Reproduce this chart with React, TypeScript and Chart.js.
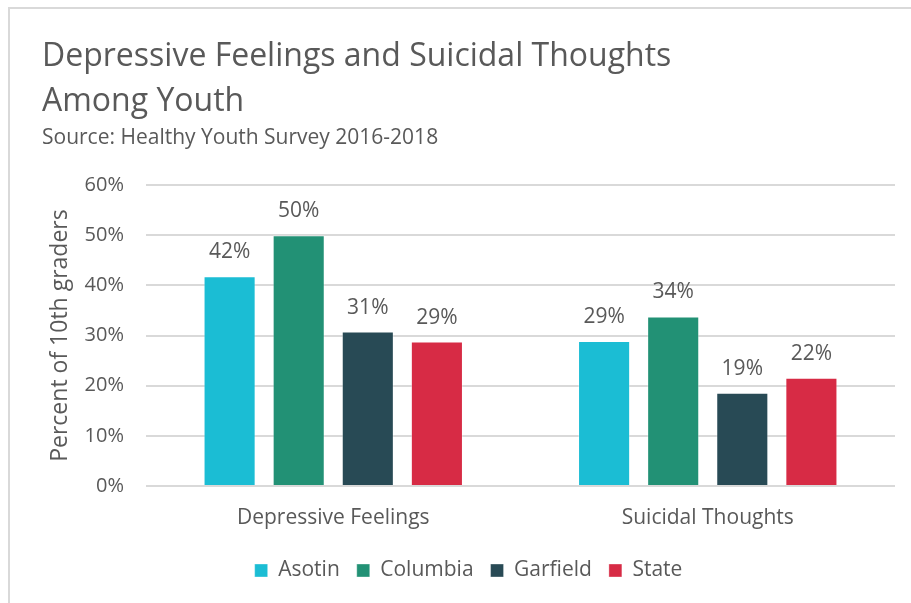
import React, { useEffect, useRef } from "react";
import { Chart, registerables } from "chart.js";

Chart.register(...registerables);

const categories = ["Depressive Feelings", "Suicidal Thoughts"];
const seriesNames = ["Asotin", "Columbia", "Garfield", "State"];
const asotin = [41.8, 28.9];
const columbia = [50.0, 33.8];
const garfield = [30.8, 18.6];
const state = [28.8, 21.6];
const seriesColors = ["#1bbdd4", "#229175", "#284a55", "#d72b45"];
const yTicks = [0, 10, 20, 30, 40, 50, 60];
const titleLines = ["Depressive Feelings and Suicidal Thoughts", "Among Youth"];
const subtitleText = "Source: Healthy Youth Survey 2016-2018";
const yAxisTitle = "Percent of 10th graders";

const FONT = "'Open Sans'";
const GREY = "#595959";

const framePlugin = {
  id: "frame",
  beforeDraw(chart: any) {
    const ctx = chart.ctx;
    ctx.save();
    ctx.fillStyle = "#ffffff";
    ctx.fillRect(0, 0, chart.width, chart.height);
    ctx.strokeStyle = "#d9d9d9";
    ctx.lineWidth = 2;
    ctx.beginPath();
    ctx.moveTo(9, chart.height);
    ctx.lineTo(9, 8);
    ctx.lineTo(chart.width, 8);
    ctx.stroke();
    ctx.restore();
  },
};

const valueLabelPlugin = {
  id: "valueLabels",
  afterDatasetsDraw(chart: any) {
    const ctx = chart.ctx;
    ctx.save();
    ctx.fillStyle = GREY;
    ctx.font = `21px ${FONT}`;
    ctx.textAlign = "center";
    ctx.textBaseline = "middle";
    chart.data.datasets.forEach((ds: any, i: number) => {
      const meta = chart.getDatasetMeta(i);
      meta.data.forEach((el: any, j: number) => {
        const v = ds.data[j];
        ctx.fillText(Math.round(v) + "%", el.x, el.y - 24);
      });
    });
    ctx.restore();
  },
};

export default function App() {
  const ref = useRef<HTMLCanvasElement>(null);
  useEffect(() => {
    if (!ref.current) return;
    const values = [asotin, columbia, garfield, state];
    const chart = new Chart(ref.current, {
      type: "bar",
      data: {
        labels: categories,
        datasets: seriesNames.map((name, i) => ({
          label: name,
          data: values[i],
          backgroundColor: seriesColors[i],
          borderColor: "rgba(255,255,255,0.35)",
          borderWidth: 1,
          barPercentage: 0.754,
          categoryPercentage: 0.738,
        })),
      },
      options: {
        animation: false,
        responsive: false,
        maintainAspectRatio: false,
        layout: { padding: { left: 42, right: 16, top: 10, bottom: 12 } },
        plugins: {
          title: {
            display: true,
            text: titleLines,
            align: "start",
            color: GREY,
            font: { family: FONT, size: 32, weight: "normal", lineHeight: 45 / 32 },
            padding: { top: 24, bottom: 2 },
          },
          subtitle: {
            display: true,
            text: subtitleText,
            align: "start",
            color: GREY,
            font: { family: FONT, size: 21, weight: "normal", lineHeight: 1.1 },
            padding: { top: 0, bottom: 36 },
          },
          legend: {
            position: "bottom",
            labels: {
              boxWidth: 13,
              boxHeight: 13,
              color: GREY,
              padding: 17,
              font: { family: FONT, size: 21 },
            },
          },
          tooltip: { enabled: false },
        },
        scales: {
          x: {
            grid: { display: false },
            border: { display: false },
            afterFit: (s: any) => {
              s.height = 57;
            },
            ticks: {
              color: GREY,
              font: { family: FONT, size: 21 },
              padding: 11,
            },
          },
          y: {
            min: 0,
            max: 60,
            afterFit: (s: any) => {
              s.width = 104;
            },
            afterBuildTicks: (s: any) => {
              s.ticks = yTicks.map((v) => ({ value: v }));
            },
            border: { display: false },
            grid: { color: "#d9d9d9", lineWidth: 2, drawTicks: false },
            ticks: {
              color: GREY,
              font: { family: FONT, size: 20 },
              padding: 22,
              callback: (v: any) => v + "%",
            },
            title: {
              display: true,
              text: yAxisTitle,
              color: GREY,
              font: { family: FONT, size: 23 },
              padding: { top: 5, bottom: 0 },
            },
          },
        },
      },
      plugins: [framePlugin, valueLabelPlugin],
    });
    return () => chart.destroy();
  }, []);
  return (
    <div style={{ position: "fixed", left: 0, top: 0, width: 911, height: 603, background: "#fff" }}>
      <canvas ref={ref} width={911} height={603} style={{ display: "block", width: 911, height: 603 }} />
    </div>
  );
}
